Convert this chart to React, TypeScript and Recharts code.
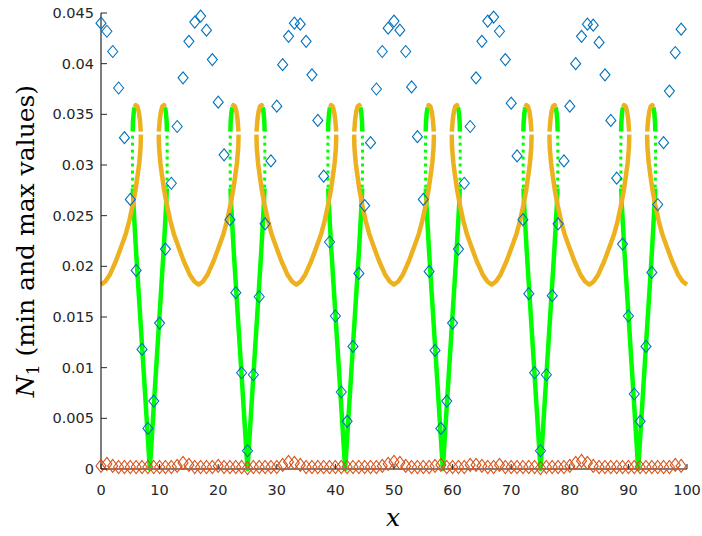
import { ComposedChart, Line, Scatter, XAxis, YAxis, Label } from 'recharts'

const xTicks = [0, 10, 20, 30, 40, 50, 60, 70, 80, 90, 100]
const yTicks = [0, 0.005, 0.01, 0.015, 0.02, 0.025, 0.03, 0.035, 0.04, 0.045]

// centres of the V-shaped dips of the min curve
const vCentres = [8.33, 25, 41.67, 58.33, 75, 91.67]

// green (min) branch, [distance from V centre, N1], read top to bottom
const greenCap = [[2.6, 0.0357], [2.76, 0.0351], [2.88, 0.0342], [2.92, 0.0333]]
const greenDotted = [[2.94, 0.0329], [2.97, 0.031], [2.95, 0.0292], [2.9, 0.0277]]
const greenStem = [[2.9, 0.0277], [2.8, 0.0262], [2.62, 0.0243], [2.35, 0.0215], [2.0, 0.0183], [1.0, 0.0092], [0, 0]]

// orange (max) half curve, [distance from V centre, N1], loop top down to U bottom
const orangeCap = [[2.6, 0.0357], [2.4, 0.0359], [2.15, 0.0358], [1.9, 0.0353], [1.7, 0.0345], [1.54, 0.0333]]
const orangeArm = [
  [1.52, 0.033], [1.58, 0.0317], [1.8, 0.0302], [2.1, 0.0289], [2.45, 0.0275], [2.9, 0.0261],
  [3.5, 0.0245], [4.1, 0.0232], [4.9, 0.0219], [5.8, 0.0205], [6.8, 0.0192], [7.6, 0.0185], [8.33, 0.0182],
]

// diamonds sampled at x = 0..99
const blueMax = [
  0.044, 0.0432, 0.0412, 0.0376, 0.0327, 0.0266, 0.0196, 0.0118, 0.004, 0.0067,
  0.0144, 0.0217, 0.0282, 0.0338, 0.0386, 0.0422, 0.0441, 0.0447, 0.0433, 0.0404,
  0.0362, 0.031, 0.0246, 0.0174, 0.0095, 0.0018, 0.0093, 0.017, 0.0242, 0.0304,
  0.0358, 0.0399, 0.0427, 0.044, 0.0439, 0.0422, 0.0389, 0.0344, 0.0289, 0.0224,
  0.0151, 0.0076, 0.0047, 0.0121, 0.0193, 0.026, 0.0322, 0.0375, 0.0412, 0.0435,
  0.0442, 0.0433, 0.0412, 0.0377, 0.0328, 0.0266, 0.0195, 0.0117, 0.004, 0.0067,
  0.0144, 0.0217, 0.0282, 0.0338, 0.0386, 0.0422, 0.0442, 0.0446, 0.0432, 0.0404,
  0.0361, 0.0309, 0.0246, 0.0173, 0.0095, 0.0018, 0.0093, 0.0171, 0.0242, 0.0304,
  0.0358, 0.04, 0.0427, 0.0439, 0.0438, 0.0421, 0.0389, 0.0344, 0.0287, 0.0222,
  0.0151, 0.0074, 0.0047, 0.0121, 0.0194, 0.0261, 0.0322, 0.0373, 0.0411, 0.0434,
]
const redMin = [
  0.0003, 0.0005, 0.0003, 0.0002, 0.0002, 0.0002, 0.0002, 0.0002, 0.0002, 0.0002,
  0.0002, 0.0002, 0.0002, 0.0003, 0.0006, 0.0004, 0.0002, 0.0002, 0.0002, 0.0002,
  0.0003, 0.0002, 0.0002, 0.0002, 0.0002, 0.0001, 0.0002, 0.0002, 0.0002, 0.0002,
  0.0002, 0.0004, 0.0007, 0.0006, 0.0004, 0.0002, 0.0002, 0.0002, 0.0002, 0.0002,
  0.0002, 0.0002, 0.0002, 0.0002, 0.0002, 0.0002, 0.0002, 0.0002, 0.0003, 0.0005,
  0.0007, 0.0006, 0.0003, 0.0002, 0.0002, 0.0002, 0.0002, 0.0003, 0.0004, 0.0002,
  0.0002, 0.0002, 0.0002, 0.0004, 0.0004, 0.0003, 0.0002, 0.0002, 0.0004, 0.0002,
  0.0002, 0.0002, 0.0002, 0.0002, 0.0002, 0.0001, 0.0002, 0.0002, 0.0002, 0.0002,
  0.0003, 0.0006, 0.0008, 0.0006, 0.0003, 0.0002, 0.0002, 0.0002, 0.0002, 0.0002,
  0.0002, 0.0002, 0.0002, 0.0002, 0.0002, 0.0002, 0.0002, 0.0002, 0.0004, 0.0003,
]

type Pt = { x: number; y: number | null }
const side = (c: number, s: number, pts: number[][]): Pt[] => pts.map(([d, y]) => ({ x: c + s * d, y }))
const brk = (c: number): Pt => ({ x: c, y: null })
const rev = (pts: number[][]) => [...pts].reverse()

const greenSolid = vCentres.flatMap((c) => [
  ...side(c, -1, greenCap), brk(c),
  ...side(c, -1, greenStem), ...side(c, 1, rev(greenStem)), brk(c),
  ...side(c, 1, greenCap), brk(c),
])
const greenDots = vCentres.flatMap((c) => [...side(c, -1, greenDotted), brk(c), ...side(c, 1, greenDotted), brk(c)])

const orangeCaps = vCentres.flatMap((c) => [...side(c, -1, orangeCap), brk(c), ...side(c, 1, orangeCap), brk(c)])
const orangeArms: Pt[] = [...side(vCentres[0], -1, rev(orangeArm)), brk(0)]
vCentres.forEach((c, i) => {
  orangeArms.push(...side(c, 1, orangeArm))
  if (i + 1 < vCentres.length) orangeArms.push(...side(vCentres[i + 1], -1, rev(orangeArm)))
  orangeArms.push(brk(c))
})

const blueData = blueMax.map((y, i) => ({ x: i, y }))
const redData = redMin.map((y, i) => ({ x: i, y }))

const AXIS = '#262626'

const diamond = (w: number, h: number, color: string) => (props: any) => {
  const { cx, cy } = props
  if (cx == null || cy == null) return <g />
  return (
    <path
      d={`M${cx},${cy - h / 2}L${cx + w / 2},${cy}L${cx},${cy + h / 2}L${cx - w / 2},${cy}Z`}
      fill="none"
      stroke={color}
      strokeWidth={1.1}
    />
  )
}

const XTick = (props: any) => {
  const { x, y, payload } = props
  return (
    <g>
      <line x1={x} x2={x} y1={y} y2={y - 5} stroke={AXIS} strokeWidth={1} />
      <text x={x} y={y + 26} textAnchor="middle" fill={AXIS} fontSize={14.5} fontFamily="DejaVu Sans">
        {String(payload.value)}
      </text>
    </g>
  )
}

const YTick = (props: any) => {
  const { x, y, payload } = props
  return (
    <g>
      <line x1={x} x2={x + 6} y1={y} y2={y} stroke={AXIS} strokeWidth={1} />
      <text x={x - 7} y={y + 5} textAnchor="end" fill={AXIS} fontSize={14.5} fontFamily="DejaVu Sans">
        {String(payload.value)}
      </text>
    </g>
  )
}

export default function App() {
  return (
    <div style={{ position: 'absolute', left: 0, top: 0, background: '#fff' }}>
      <ComposedChart width={702} height={536} margin={{ top: 13, right: 15, bottom: 0, left: 0 }}>
        <XAxis
          type="number"
          dataKey="x"
          domain={[0, 100]}
          ticks={xTicks}
          interval={0}
          height={67}
          tickSize={0}
          tickMargin={0}
          tickLine={false}
          tick={XTick}
          axisLine={{ stroke: '#808080', strokeWidth: 2 }}
        >
          <Label
            content={() => (
              <text x={393} y={526} textAnchor="middle" fontFamily="DejaVu Serif" fontStyle="italic" fontSize={25} fill="#000">
                x
              </text>
            )}
          />
        </XAxis>
        <YAxis
          type="number"
          dataKey="y"
          domain={[0, 0.045]}
          ticks={yTicks}
          interval={0}
          width={101}
          tickSize={0}
          tickMargin={0}
          tickLine={false}
          tick={YTick}
          axisLine={{ stroke: AXIS, strokeWidth: 1.2 }}
        >
          <Label
            content={() => (
              <text transform="translate(34,241) rotate(-90)" textAnchor="middle" fontFamily="DejaVu Serif" fontSize={25} fill="#000">
                <tspan fontStyle="italic">N</tspan>
                <tspan fontSize={17} dy={5}>1</tspan>
                <tspan dy={-5}> (min and max values)</tspan>
              </text>
            )}
          />
        </YAxis>
        <Line
          data={greenSolid}
          dataKey="y"
          type="linear"
          stroke="#00ff00"
          strokeWidth={4.5}
          strokeLinejoin="round"
          dot={false}
          activeDot={false}
          connectNulls={false}
          isAnimationActive={false}
        />
        <Line
          data={greenDots}
          dataKey="y"
          type="linear"
          stroke="#00ff00"
          strokeWidth={3}
          strokeDasharray="3 4"
          dot={false}
          activeDot={false}
          connectNulls={false}
          isAnimationActive={false}
        />
        <Line
          data={orangeArms}
          dataKey="y"
          type="linear"
          stroke="#EDB120"
          strokeWidth={4.5}
          strokeLinejoin="round"
          dot={false}
          activeDot={false}
          connectNulls={false}
          isAnimationActive={false}
        />
        <Line
          data={orangeCaps}
          dataKey="y"
          type="linear"
          stroke="#EDB120"
          strokeWidth={4.5}
          strokeLinejoin="round"
          dot={false}
          activeDot={false}
          connectNulls={false}
          isAnimationActive={false}
        />
        <Scatter data={blueData} dataKey="y" shape={diamond(10, 12, '#0072BD')} isAnimationActive={false} />
        <Scatter data={redData} dataKey="y" shape={diamond(10, 13, '#D95319')} isAnimationActive={false} />
      </ComposedChart>
    </div>
  )
}
